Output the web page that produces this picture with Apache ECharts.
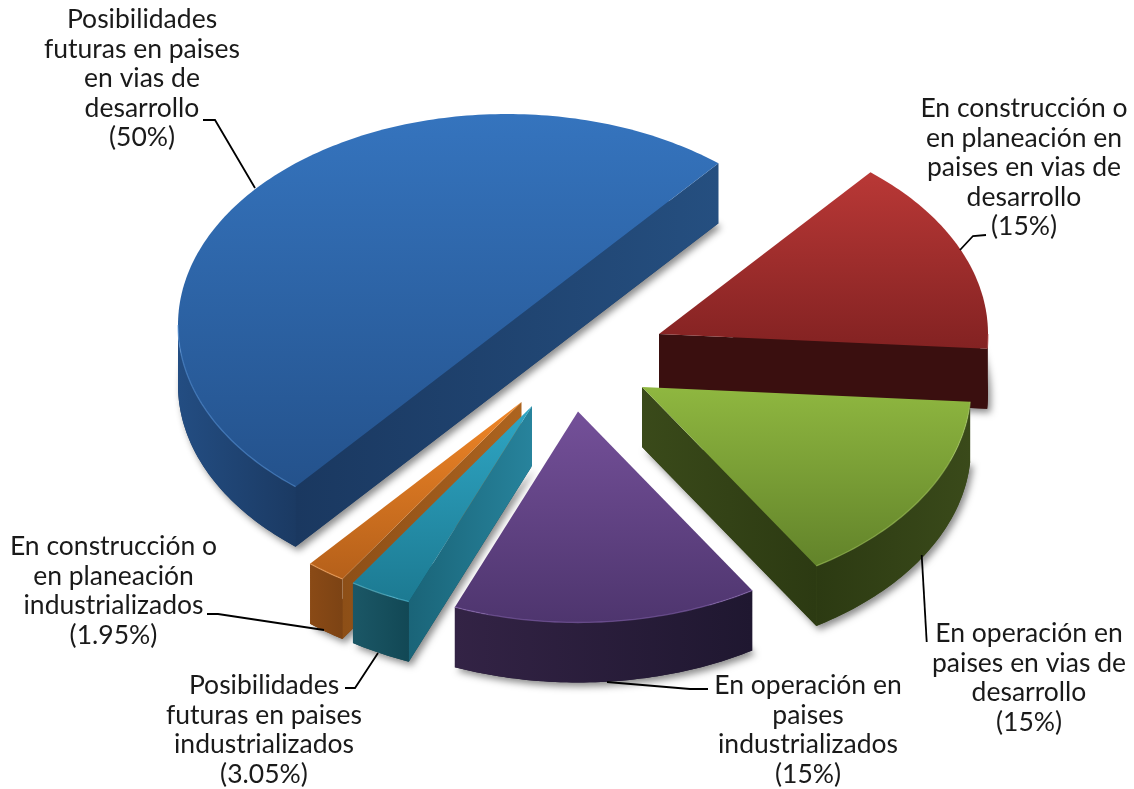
<!DOCTYPE html>
<html><head><meta charset="utf-8">
<style>html,body{margin:0;padding:0;background:#fff}#c{width:1134px;height:789px}</style>
<script src="https://cdn.jsdelivr.net/npm/echarts@6/dist/echarts.min.js"></script>
</head><body><div id="c"></div>
<script>
// ---- data ----
const categories = [
  "Posibilidades\nfuturas en paises\nen vias de\ndesarrollo",
  "En construcción o\nen planeación en\npaises en vias de\ndesarrollo",
  "En operación en\npaises en vias de\ndesarrollo",
  "En operación en\npaises\nindustrializados",
  "Posibilidades\nfuturas en paises\nindustrializados",
  "En construcción o\nen planeación\nindustrializados"
];
const values = [50, 15, 15, 15, 3.05, 1.95];
// ---- colours: [top-start, top-end, outer-wall-start, outer-wall-end, cut-wall-left, cut-wall-right, rim] ----
const palette = [
  ["#3574be","#24528c","#234d82","#1b3a63","#1a3860","#254f80","#5b97dc"],
  ["#b93836","#832222","#3a0f0f","#3a0f0f","#3a0f0f","#3a0f0f","#b04040"],
  ["#8fb740","#62832a","#2c3a12","#3a4a1a","#3a4a1a","#2c3a12","#a6c860"],
  ["#745099","#4e356e","#332345","#1f1730","#1f1730","#1f1730","#8a68b4"],
  ["#2fa6c4","#1c7a92","#1b5766","#124855","#1a6478","#27839c","#5cc4de"],
  ["#f08627","#b5601a","#8a4a16","#7c4314","#8d4f17","#ad641f","#f7a860"]
];
// ---- layout ----
const CX = 577, CY = 357, RX = 329, RY = 211, DEPTH = 60, START = -230;
// how far each slice is pulled out of the pie (x, y)
const explode = [[-70,-32],[82,-23],[65,30],[1,54.5],[-45,49],[-55.5,45]];
const FONT = "Lato";
const FS = 26.5;
const labelLayout = [
  {x:142,  y:5,   leader:[[203,120],[215,120],[255,188]]},
  {x:1024, y:94,  leader:[[960,250],[973,236],[986,235]]},
  {x:1029, y:619, leader:[[921.7,555],[926.7,642]]},
  {x:808,  y:671, leader:[[607,682],[690,689],[708,689]]},
  {x:264,  y:671, leader:[[345,688],[355,688],[378,653]]},
  {x:113.5,y:532, leader:[[207,614],[218,614],[324,630]]}
];
const total = values.reduce((a,b)=>a+b,0);
const rad = d => d*Math.PI/180;
const grad = (x0,y0,x1,y1,a,b,g) => new echarts.graphic.LinearGradient(x0,y0,x1,y1,[{offset:0,color:a},{offset:1,color:b}],g);
const SHADOW = {shadowBlur:7, shadowOffsetX:3, shadowOffsetY:4, shadowColor:'rgba(0,0,0,0.45)'};

function renderItem(params, api){
  const i = params.dataIndex;
  let before = 0;
  for(let k=0;k<i;k++) before += values[k];
  const v = api.value(0);
  const a0 = START + before/total*360, a1 = a0 + v/total*360, mid = (a0+a1)/2;
  const ox = CX + explode[i][0], oy = CY + explode[i][1];
  const pt = (a,d=0) => [ox+RX*Math.cos(rad(a)), oy+RY*Math.sin(rad(a))+d];
  const apex = [ox,oy], apexB = [ox,oy+DEPTH];
  const pal = palette[i];
  const z = Math.round(Math.sin(rad(mid))*100)+200;
  const arc = (s,e,d=0)=>{const n=Math.max(2,Math.ceil(Math.abs(e-s)));const r=[];for(let t=0;t<=n;t++)r.push(pt(s+(e-s)*t/n,d));return r;};
  const ch = [];
  const rr = arc(a0,a1);
  // silhouette carrying the soft shadow
  ch.push({type:'polygon',z2:z,shape:{points:[apexB,...arc(a0,a1,DEPTH)]},style:Object.assign({fill:pal[3]},SHADOW),silent:true});
  // cut walls that face the viewer share one gradient
  const cuts = [];
  if(Math.sin(rad(a0-90))>0) cuts.push(pt(a0));
  if(Math.sin(rad(a1+90))>0) cuts.push(pt(a1));
  const xs = cuts.map(p=>p[0]).concat(ox);
  const gx0 = Math.min(...xs), gx1 = Math.max(...xs);
  cuts.forEach(p=>{
    ch.push({type:'polygon',z2:z+1,shape:{points:[apex,p,[p[0],p[1]+DEPTH],apexB]},
      style:{fill:grad(gx0,0,gx1,0,pal[4],pal[5],true),stroke:null},silent:true});
  });
  // outer wall: the part of the rim on the near side of the ellipse
  const vis=[];
  for(const off of [0,-360]){
    const s=Math.max(a0,off), e=Math.min(a1,off+180);
    if(e>s) vis.push([s,e]);
  }
  vis.forEach(([s,e])=>{
    ch.push({type:'polygon',z2:z+1,shape:{points:[...arc(s,e),...arc(s,e,DEPTH).reverse()]},style:{fill:grad(0,0,1,0,pal[2],pal[3])},silent:true});
  });
  // upper face
  ch.push({type:'polygon',z2:z+2,shape:{points:[apex,...rr]},style:{fill:grad(0,0,0,1,pal[0],pal[1])},silent:true});
  vis.forEach(([s,e])=>{
    ch.push({type:'polyline',z2:z+3,shape:{points:arc(s,e)},style:{fill:null,stroke:pal[6],lineWidth:1.3,opacity:.55},silent:true});
  });
  // label and leader
  const L = labelLayout[i];
  ch.push({type:'polyline',z2:900,shape:{points:L.leader},style:{fill:null,stroke:'#000',lineWidth:1.8},silent:true});
  ch.push({type:'text',z2:901,silent:true,style:{
    text:categories[i]+"\n("+v+"%)", x:L.x, y:L.y, align:'center', verticalAlign:'top',
    font:FS+'px '+FONT, fontFamily:FONT, fontSize:FS, lineHeight:29.5, fill:'#1a1a1a'}});
  return {type:'group',children:ch};
}

const chart = echarts.init(document.getElementById('c'),null,{renderer:'canvas'});
chart.setOption({
  animation:false,
  backgroundColor:'#ffffff',
  series:[{type:'custom',coordinateSystem:'none',renderItem,clip:false,
    data:values.map((v,i)=>({value:[v],name:categories[i]}))}]
});
</script></body></html>
